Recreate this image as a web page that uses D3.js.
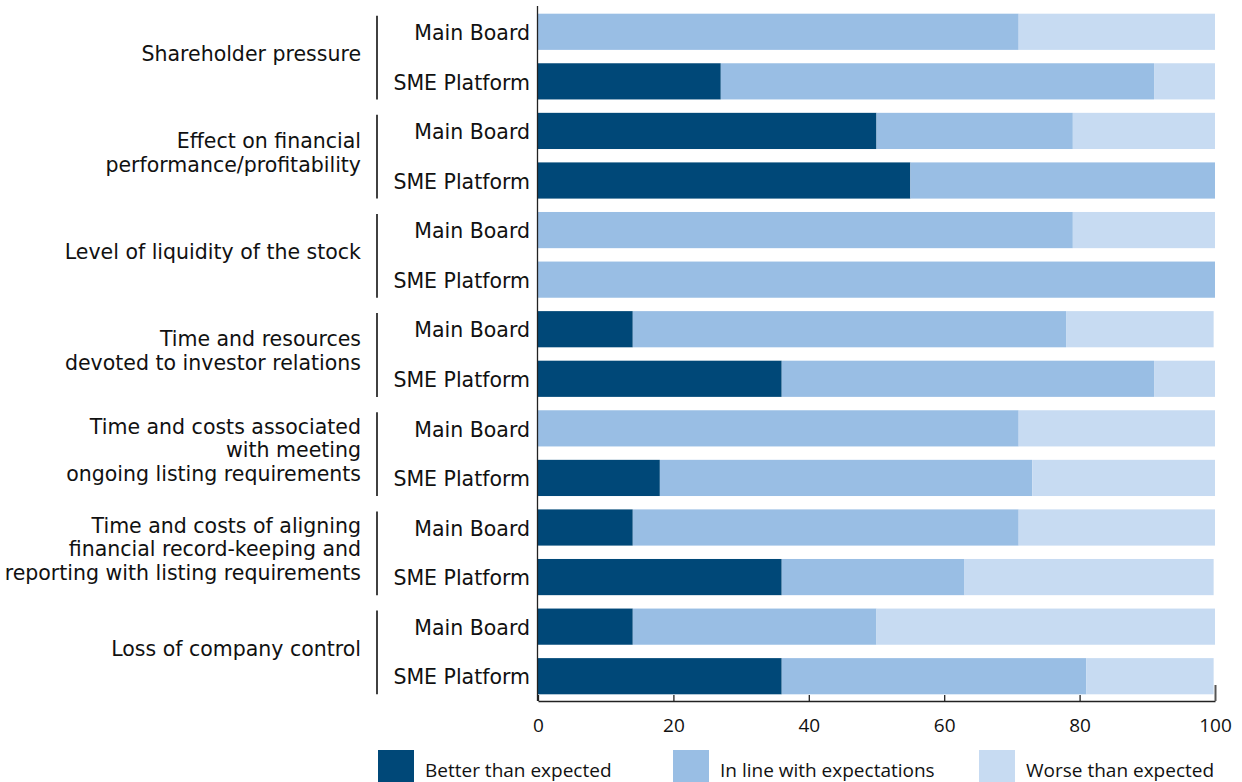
<!DOCTYPE html>
<html>
<head>
<meta charset="utf-8">
<script src="https://cdn.jsdelivr.net/npm/d3@7"></script>
<style>
  body { margin: 0; background: #fff; }
  svg { display: block; }
  .rowLabel, .catLabel { font-family: "DejaVu Sans", sans-serif; fill: #111; }
  .tickText, .legendText { font-family: "Open Sans", sans-serif; fill: #111; }
</style>
</head>
<body>
<script>
// categories (groups) and their wrapped label lines
var categories = [
  ["Shareholder pressure"],
  ["Effect on financial", "performance/profitability"],
  ["Level of liquidity of the stock"],
  ["Time and resources", "devoted to investor relations"],
  ["Time and costs associated", "with meeting", "ongoing listing requirements"],
  ["Time and costs of aligning", "financial record-keeping and", "reporting with listing requirements"],
  ["Loss of company control"]
];
var boards = ["Main Board", "SME Platform"];

var seriesNames = ["Better than expected", "In line with expectations", "Worse than expected"];

// values per bar, in order: group 0 Main, group 0 SME, group 1 Main, ...
var better = [0, 27, 50, 55, 0, 0, 14, 36, 0, 18, 14, 36, 14, 36];
var inLine = [71, 64, 29, 45, 79, 100, 64, 55, 71, 55, 57, 27, 36, 45];
var worse  = [29, 9, 21, 0, 21, 0, 21.8, 9, 29, 27, 29, 36.8, 50, 18.8];

var xTicks = [0, 20, 40, 60, 80, 100];

var colors = ["#004878", "#99bee4", "#c7dbf2"];

var svgWidth = 1242, svgHeight = 782;
var margin = { left: 538, right: 27, top: 7, bottom: 81 };
var chartwidth = svgWidth - margin.left - margin.right;
var chartheight = svgHeight - margin.top - margin.bottom;

var svg = d3.select("body").append("svg")
  .attr("width", svgWidth)
  .attr("height", svgHeight);

var chartGroup = svg.append("g")
  .attr("transform", `translate(${margin.left}, ${margin.top})`);

// one row per bar
var rows = [];
categories.forEach(function(c, i) {
  boards.forEach(function(b, j) {
    var k = i * 2 + j;
    rows.push({ id: k, group: i, board: b, values: [better[k], inLine[k], worse[k]] });
  });
});

var xLinearScale = d3.scaleLinear().domain([0, 100]).range([0, chartwidth]);
var yBand = d3.scaleBand()
  .domain(rows.map(d => d.id))
  .range([0, chartheight])
  .paddingInner(0.27)
  .paddingOuter(0.135);

// stacked segments
var stack = d3.stack().keys([0, 1, 2]).value((d, key) => d.values[key]);
var layers = stack(rows);

chartGroup.selectAll("g.layer")
  .data(layers)
  .enter()
  .append("g")
  .attr("class", "layer")
  .attr("fill", (d, i) => colors[i])
  .selectAll("rect")
  .data(d => d)
  .enter()
  .append("rect")
  .attr("x", d => xLinearScale(d[0]))
  .attr("y", d => yBand(d.data.id))
  .attr("width", d => xLinearScale(d[1]) - xLinearScale(d[0]))
  .attr("height", yBand.bandwidth());

// axes
var bottomAxis = d3.axisBottom(xLinearScale).tickValues(xTicks).tickSizeInner(-6).tickSizeOuter(0).tickPadding(18);
var xAxisG = chartGroup.append("g")
  .attr("transform", `translate(0, ${chartheight})`)
  .call(bottomAxis);
xAxisG.select(".domain").attr("stroke", "#222").attr("stroke-width", 1.5);
xAxisG.selectAll(".tick line").attr("stroke", "#222").attr("stroke-width", 1.3);
xAxisG.selectAll(".tick").filter(d => d === 100).select("line").attr("y2", -16).attr("stroke", "#555").attr("stroke-width", 2);
xAxisG.selectAll(".tick text")
  .attr("class", "tickText")
  .attr("font-size", "19px");

chartGroup.append("line")
  .attr("x1", -0.5).attr("x2", -0.5)
  .attr("y1", -1).attr("y2", chartheight)
  .attr("stroke", "#222")
  .attr("stroke-width", 1.3);

// row labels
chartGroup.selectAll("text.rowLabel")
  .data(rows)
  .enter()
  .append("text")
  .attr("class", "rowLabel")
  .attr("x", -8)
  .attr("y", d => yBand(d.id) + yBand.bandwidth() / 2 + 1)
  .attr("dy", "0.35em")
  .attr("text-anchor", "end")
  .attr("font-size", "20.5px")
  .text(d => d.board);

// group brackets
var groupG = chartGroup.selectAll("g.grp")
  .data(categories)
  .enter()
  .append("g")
  .attr("class", "grp");

groupG.append("line")
  .attr("x1", -161).attr("x2", -161)
  .attr("y1", (d, i) => yBand(i * 2) + 2)
  .attr("y2", (d, i) => yBand(i * 2 + 1) + yBand.bandwidth())
  .attr("stroke", "#111")
  .attr("stroke-width", 1.6);

groupG.each(function(lines, i) {
  var mid = (yBand(i * 2) + yBand(i * 2 + 1) + yBand.bandwidth()) / 2 - 3;
  var lh = 23.5;
  var t = d3.select(this).append("text")
    .attr("class", "catLabel")
    .attr("text-anchor", "end")
    .attr("font-size", "20.5px");
  lines.forEach(function(l, j) {
    t.append("tspan")
      .attr("x", -177)
      .attr("y", mid + (j - (lines.length - 1) / 2) * lh)
      .attr("dy", "0.35em")
      .text(l);
  });
});

// legend
var legendX = [378, 673, 979];
var legend = svg.selectAll("g.legend")
  .data(seriesNames)
  .enter()
  .append("g")
  .attr("class", "legend")
  .attr("transform", (d, i) => `translate(${legendX[i]}, 750)`);

legend.append("rect")
  .attr("width", 36)
  .attr("height", 36)
  .attr("fill", (d, i) => colors[i]);

legend.append("text")
  .attr("class", "legendText")
  .attr("x", 47)
  .attr("y", 27)
  .attr("font-size", "19px")
  .text(d => d);
</script>
</body>
</html>
